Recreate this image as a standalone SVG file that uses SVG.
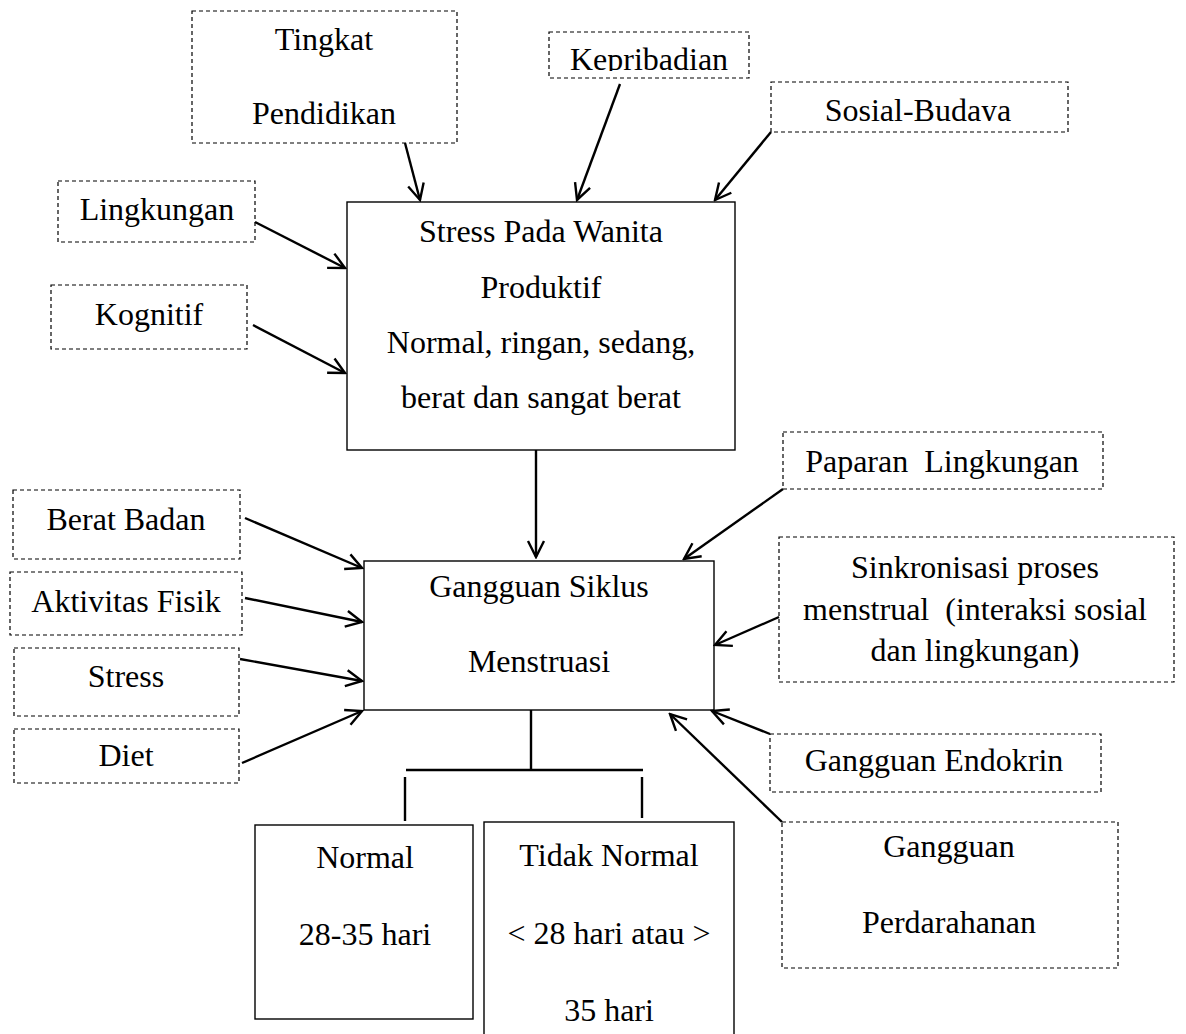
<svg xmlns="http://www.w3.org/2000/svg" width="1186" height="1034" viewBox="0 0 1186 1034">
<style>
text{font-family:"Liberation Serif","DejaVu Serif",serif;font-size:32px;fill:#000;text-anchor:middle}
.d{fill:#fff;stroke:#000;stroke-width:1.2;stroke-dasharray:4 3}
.s{fill:#fff;stroke:#000;stroke-width:1.4}
.c line{stroke:#000;stroke-width:2.4}
.c .a{marker-end:url(#ah)}
</style>
<defs>
<marker id="ah" viewBox="0 0 20 20" refX="18" refY="10" markerWidth="20" markerHeight="20" markerUnits="userSpaceOnUse" orient="auto">
<path d="M2,2 L18,10 L2,18" fill="none" stroke="#000" stroke-width="2.4"/>
</marker>
<clipPath id="ck"><rect x="549" y="32" width="200" height="39"/></clipPath>
<clipPath id="cs"><rect x="771" y="82" width="297" height="39"/></clipPath>
</defs>
<rect width="1186" height="1034" fill="#fff"/>
<g font-family="Liberation Serif, DejaVu Serif, serif">
<g id="tingkat"><rect class="d" x="192" y="11" width="265" height="132"/><text x="324" y="50">Tingkat</text><text x="324" y="124">Pendidikan</text></g>
<g id="kepribadian"><rect class="d" x="549" y="32" width="200" height="46"/><text x="649" y="70" clip-path="url(#ck)">Kepribadian</text></g>
<g id="sosial"><rect class="d" x="771" y="82" width="297" height="50"/><text x="918" y="121" clip-path="url(#cs)">Sosial-Budaya</text></g>
<g id="lingkungan"><rect class="d" x="58" y="181" width="197" height="61"/><text x="157" y="220">Lingkungan</text></g>
<g id="kognitif"><rect class="d" x="51" y="285" width="196" height="64"/><text x="149" y="325">Kognitif</text></g>
<g id="stress-main"><rect class="s" x="347" y="202" width="388" height="248"/><text x="541" y="242">Stress Pada Wanita</text><text x="541" y="298">Produktif</text><text x="541" y="353">Normal, ringan, sedang,</text><text x="541" y="408">berat dan sangat berat</text></g>
<g id="gangguan-siklus"><rect class="s" x="364" y="561" width="350" height="149"/><text x="539" y="597">Gangguan Siklus</text><text x="539" y="672">Menstruasi</text></g>
<g id="berat"><rect class="d" x="13" y="490" width="227" height="69"/><text x="126" y="530">Berat Badan</text></g>
<g id="aktivitas"><rect class="d" x="10" y="572" width="232" height="63"/><text x="126" y="612">Aktivitas Fisik</text></g>
<g id="stress"><rect class="d" x="14" y="648" width="225" height="68"/><text x="126" y="687">Stress</text></g>
<g id="diet"><rect class="d" x="14" y="729" width="225" height="54"/><text x="126" y="766">Diet</text></g>
<g id="paparan"><rect class="d" x="783" y="432" width="320" height="57"/><text x="942" y="472" xml:space="preserve">Paparan  Lingkungan</text></g>
<g id="sinkronisasi"><rect class="d" x="779" y="537" width="395" height="145"/><text x="975" y="578">Sinkronisasi proses</text><text x="975" y="620" xml:space="preserve">menstrual  (interaksi sosial</text><text x="975" y="661">dan lingkungan)</text></g>
<g id="endokrin"><rect class="d" x="770" y="734" width="331" height="58"/><text x="934" y="771">Gangguan Endokrin</text></g>
<g id="perdarahan"><rect class="d" x="782" y="822" width="336" height="146"/><text x="949" y="857">Gangguan</text><text x="949" y="933">Perdarahanan</text></g>
<g id="normal"><rect class="s" x="255" y="825" width="218" height="194"/><text x="365" y="868">Normal</text><text x="365" y="945">28-35 hari</text></g>
<g id="tidak-normal"><rect class="s" x="484" y="822" width="250" height="220"/><text x="609" y="866">Tidak Normal</text><text x="609" y="944">&lt; 28 hari atau &gt;</text><text x="609" y="1021">35 hari</text></g>
</g>
<g id="connectors" class="c">
<line class="a" x1="405" y1="143" x2="420" y2="200"/>
<line class="a" x1="620" y1="84" x2="577" y2="200"/>
<line class="a" x1="771" y1="132" x2="715" y2="200"/>
<line class="a" x1="255" y1="222" x2="345" y2="268"/>
<line class="a" x1="253" y1="325" x2="345" y2="373"/>
<line class="a" x1="536" y1="450" x2="536" y2="557"/>
<line class="a" x1="245" y1="518" x2="362" y2="568"/>
<line class="a" x1="245" y1="598" x2="362" y2="622"/>
<line class="a" x1="240" y1="659" x2="362" y2="681"/>
<line class="a" x1="242" y1="763" x2="362" y2="711"/>
<line class="a" x1="783" y1="489" x2="684" y2="559"/>
<line class="a" x1="779" y1="617" x2="715" y2="645"/>
<line class="a" x1="770" y1="734" x2="712" y2="711"/>
<line class="a" x1="782" y1="822" x2="670" y2="714"/>
<line x1="531" y1="710" x2="531" y2="770"/>
<line x1="406" y1="770" x2="643" y2="770"/>
<line x1="405" y1="777" x2="405" y2="821"/>
<line x1="642" y1="777" x2="642" y2="818"/>
</g>
</svg>
